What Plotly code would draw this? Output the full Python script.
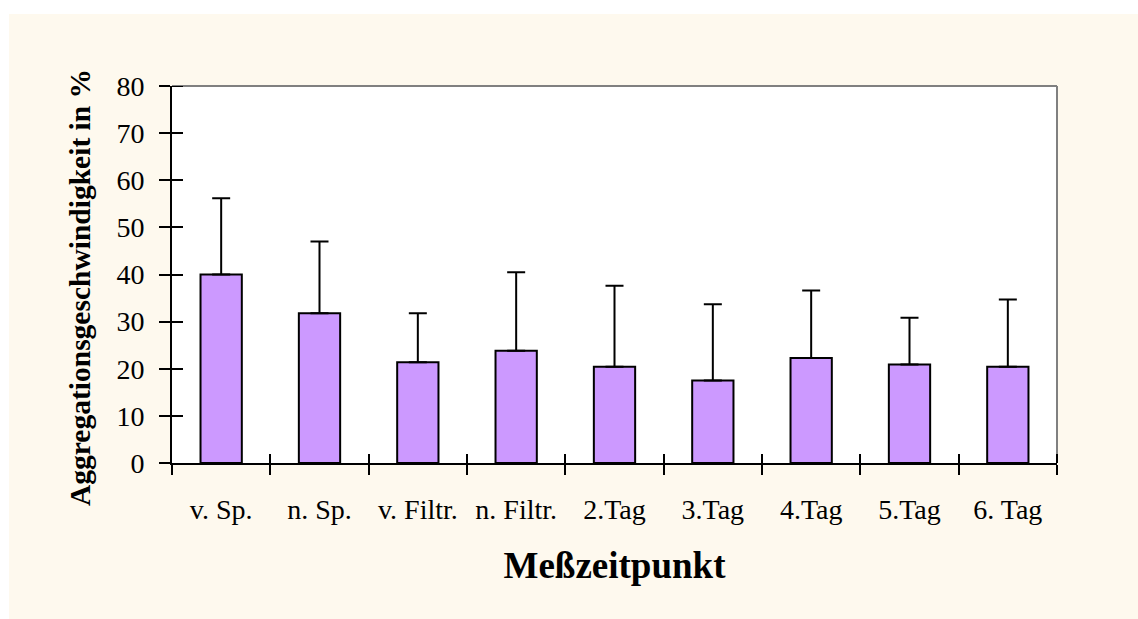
import plotly.graph_objects as go

# Messzeitpunkte und Mittelwerte der Aggregationsgeschwindigkeit (%)
categories = ["v. Sp.", "n. Sp.", "v. Filtr.", "n. Filtr.", "2.Tag",
              "3.Tag", "4.Tag", "5.Tag", "6. Tag"]
means = [40.0, 31.8, 21.4, 23.8, 20.4, 17.5, 22.3, 20.9, 20.4]
sd_upper = [16.2, 15.2, 10.4, 16.7, 17.2, 16.2, 14.3, 9.9, 14.3]
y_ticks = [0, 10, 20, 30, 40, 50, 60, 70, 80]

W, H = 1138, 619
L, R, T, B = 172, 81, 86, 156
plot_w = W - L - R
plot_h = H - T - B

cream = "#FEF9EE"
bar_fill = "#CC99FF"
serif = "Liberation Serif, Times New Roman, serif"
n = len(categories)

fig = go.Figure()
fig.add_trace(go.Bar(
    x=categories,
    y=means,
    width=0.42,
    marker=dict(color=bar_fill, line=dict(color="black", width=2)),
    error_y=dict(type="data", symmetric=False, array=sd_upper,
                 arrayminus=[0] * len(sd_upper),
                 color="black", thickness=2, width=9),
    showlegend=False,
    hoverinfo="x+y",
))
# empty traces carrying the twin axes that draw the inner half of each tick
fig.add_trace(go.Scatter(
    x=[categories[0]], y=[0], yaxis="y2", mode="markers",
    marker=dict(opacity=0), showlegend=False, hoverinfo="skip",
))
fig.add_trace(go.Scatter(
    x=[0], y=[0], xaxis="x2", mode="markers",
    marker=dict(opacity=0), showlegend=False, hoverinfo="skip",
))

fig.update_layout(
    width=W, height=H,
    margin=dict(l=L, r=R, t=T, b=B, pad=0),
    paper_bgcolor=cream,
    plot_bgcolor="white",
    font=dict(family=serif, color="black", size=28),
    xaxis=dict(
        type="category",
        tickson="boundaries",
        ticks="outside", ticklen=10, tickwidth=2, tickcolor="black",
        showline=True, linecolor="black", linewidth=2,
        showgrid=False, zeroline=False,
        tickfont=dict(family=serif, size=28),
        ticklabelstandoff=20,
        title=dict(text="<b>Meßzeitpunkt</b>",
                   font=dict(family=serif, size=37), standoff=29),
    ),
    xaxis2=dict(
        overlaying="x", anchor="y", side="bottom",
        range=[-0.5, n - 0.5],
        tickmode="array", tickvals=[i - 0.5 for i in range(n + 1)],
        ticks="inside", ticklen=9, tickwidth=2, tickcolor="black",
        showticklabels=False, showline=False, showgrid=False, zeroline=False,
    ),
    yaxis=dict(
        range=[0, 80],
        tickmode="array", tickvals=y_ticks,
        ticks="outside", ticklen=11, tickwidth=2, tickcolor="black",
        showline=True, linecolor="black", linewidth=2,
        showgrid=False, zeroline=False,
        tickfont=dict(family=serif, size=28),
        ticklabelstandoff=9,
    ),
    yaxis2=dict(
        overlaying="y", anchor="x", side="left",
        range=[0, 80],
        tickmode="array", tickvals=y_ticks,
        ticks="inside", ticklen=11, tickwidth=2, tickcolor="black",
        showticklabels=False, showline=False, showgrid=False, zeroline=False,
    ),
    annotations=[
        dict(text="<b>Aggregationsgeschwindigkeit in %</b>",
             xref="paper", yref="paper",
             x=-(L - 80) / plot_w, y=(463 - 288) / plot_h,
             xanchor="center", yanchor="middle", textangle=-90,
             showarrow=False, font=dict(family=serif, size=29.5)),
    ],
    shapes=[
        # white page margin above and left of the cream panel
        dict(type="rect", xref="paper", yref="paper", layer="below",
             x0=-1, x1=2, y0=1 + (T - 14) / plot_h, y1=3,
             fillcolor="white", line=dict(width=0)),
        dict(type="rect", xref="paper", yref="paper", layer="below",
             x0=-1, x1=-(L - 9) / plot_w, y0=-2, y1=3,
             fillcolor="white", line=dict(width=0)),
        # grey frame on top and right of the plot area
        dict(type="line", xref="paper", yref="paper",
             x0=0, x1=1, y0=1, y1=1, line=dict(color="#808080", width=2)),
        dict(type="line", xref="paper", yref="paper",
             x0=1, x1=1, y0=0, y1=1, line=dict(color="#808080", width=2)),
        # inner halves of the end ticks, which sit on the frame
        dict(type="line", xref="paper", xsizemode="pixel", xanchor=0,
             x0=0, x1=11, yref="y", y0=y_ticks[-1], y1=y_ticks[-1],
             line=dict(color="black", width=2)),
        dict(type="line", yref="paper", ysizemode="pixel", yanchor=0,
             y0=0, y1=9, xref="paper", x0=1, x1=1,
             line=dict(color="black", width=2)),
    ],
)

fig.write_html("out.html")
